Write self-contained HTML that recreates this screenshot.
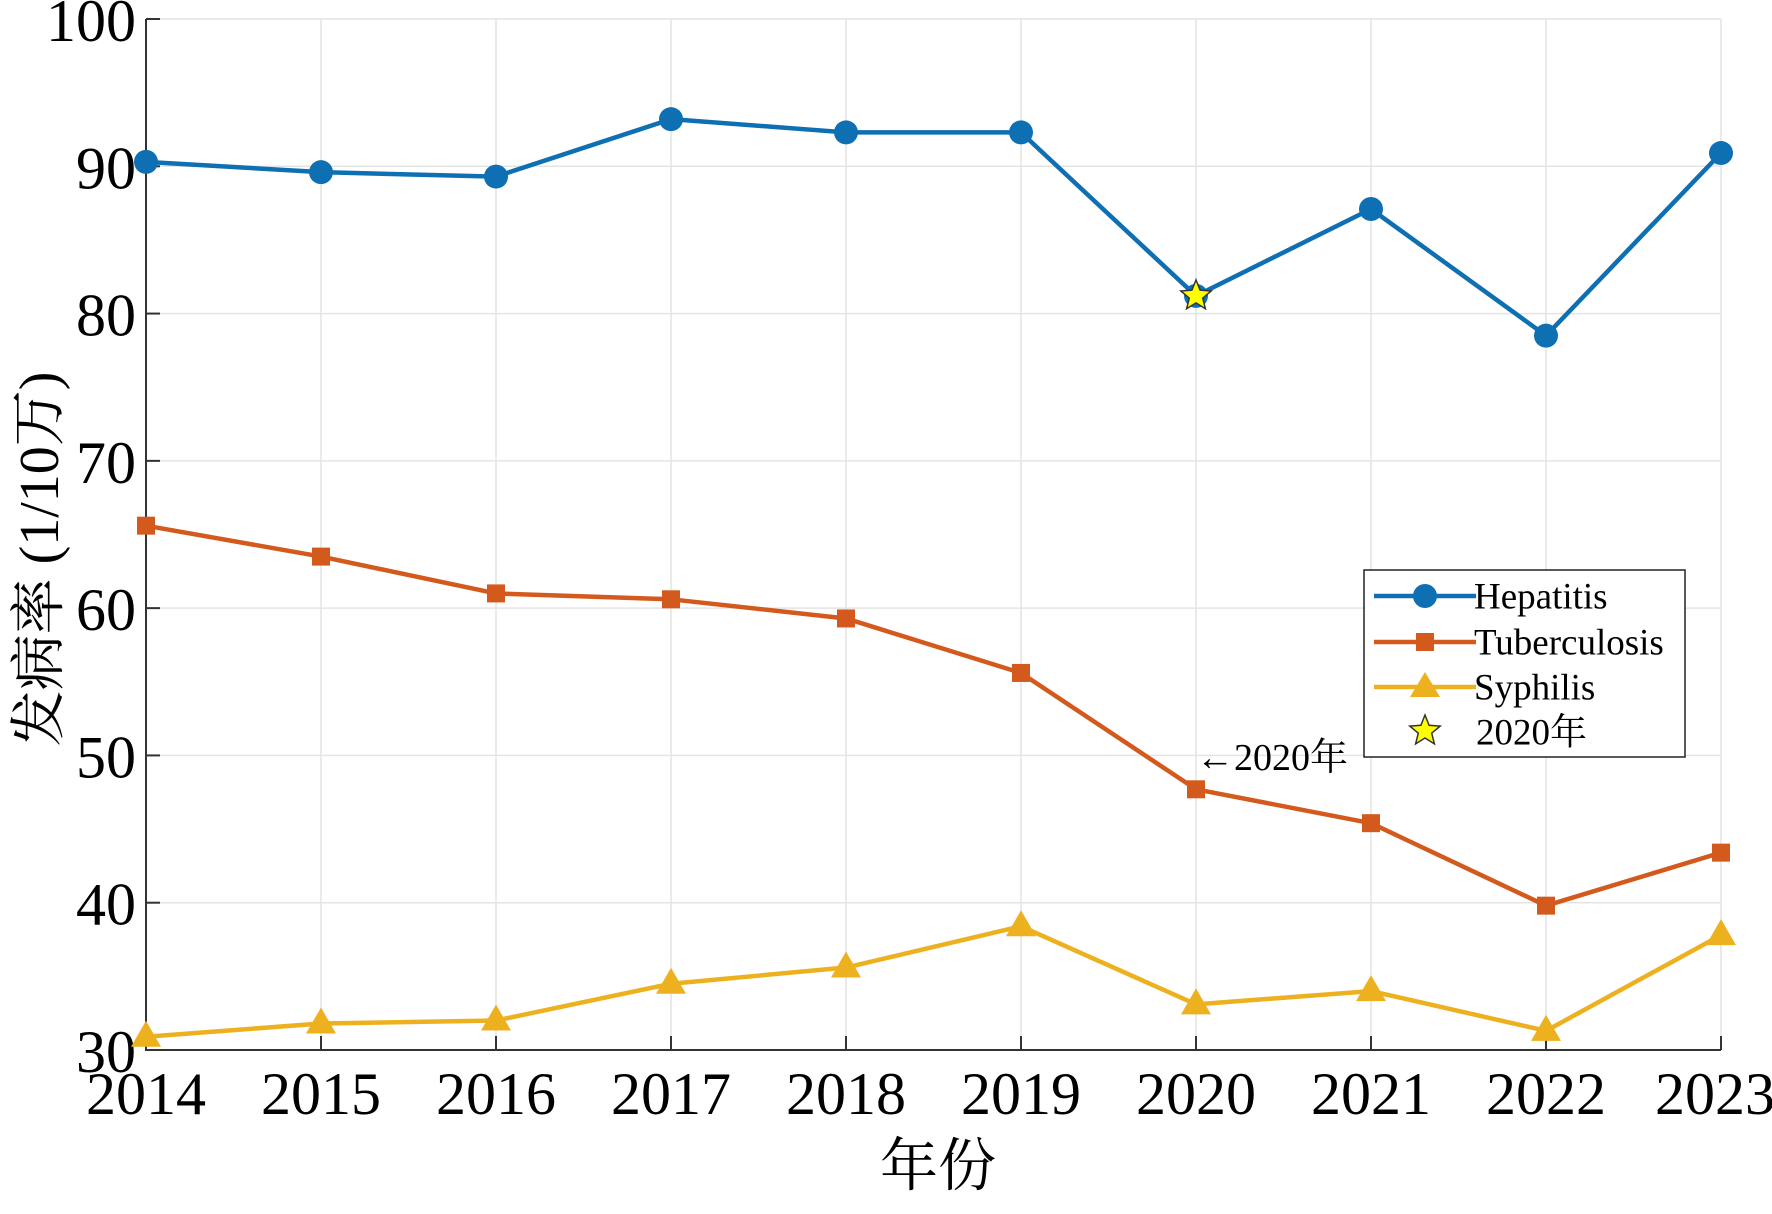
<!DOCTYPE html>
<html><head><meta charset="utf-8"><style>
html,body{margin:0;padding:0;background:#fff;}
svg{display:block;font-family:"Liberation Serif","Noto Serif CJK SC",serif;}
</style></head><body>
<svg id="chart" width="1772" height="1214" viewBox="0 0 1772 1214">
<g id="grid"></g>
<g id="axes"></g>
<g id="series"></g>
<text x="40" y="559" transform="rotate(-90 40 559)" text-anchor="middle" dominant-baseline="central" font-size="56" fill="#000">发病率 (1/10万)</text>
<text x="938" y="1166" text-anchor="middle" dominant-baseline="central" font-size="58" fill="#000">年份</text>
<g>
<text x="1196" y="758" dominant-baseline="central" font-size="38" fill="#000">←2020年</text>
</g>
<g>
<rect x="1364" y="570" width="321" height="187" fill="#fff" stroke="#222" stroke-width="1.5"/>
<g>
<line x1="1374" y1="596" x2="1476" y2="596" stroke="#0f6fb3" stroke-width="4.5"/><circle cx="1425" cy="596" r="12" fill="#0f6fb3"/>
<text x="1474" y="597" dominant-baseline="central" font-size="37">Hepatitis</text></g>
<g>
<line x1="1374" y1="642" x2="1476" y2="642" stroke="#d35a1c" stroke-width="4.5"/><rect x="1416" y="633" width="18" height="18" fill="#d35a1c"/>
<text x="1474" y="643" dominant-baseline="central" font-size="37">Tuberculosis</text></g>
<g>
<line x1="1374" y1="687" x2="1476" y2="687" stroke="#edb120" stroke-width="4.5"/><polygon points="1425,672 1440,697 1410,697" fill="#edb120"/>
<text x="1474" y="688" dominant-baseline="central" font-size="37">Syphilis</text></g>
<g>
<polygon id="lstar" fill="#ffff00" stroke="#333" stroke-width="1.5"/>
<text x="1476" y="733" dominant-baseline="central" font-size="37">2020年</text></g>
</g>
</svg>
<script>
const years=[2014,2015,2016,2017,2018,2019,2020,2021,2022,2023];
const hepatitis=[90.3,89.6,89.3,93.2,92.3,92.3,81.2,87.1,78.5,90.9];
const tuberculosis=[65.6,63.5,61.0,60.6,59.3,55.6,47.7,45.4,39.8,43.4];
const syphilis=[30.9,31.8,32.0,34.5,35.6,38.4,33.1,34.0,31.3,37.8];
const yTicks=[30,40,50,60,70,80,90,100];
const highlightIndex=6;
const NS="http://www.w3.org/2000/svg";
const X0=146,X1=1721,Y0=1050,Y1=19,YMIN=30,YMAX=100;
function xs(i){return X0+(X1-X0)*i/(years.length-1);}
function ys(v){return Y0-(v-YMIN)/(YMAX-YMIN)*(Y0-Y1);}
function mk(tag,attrs,parent){const e=document.createElementNS(NS,tag);for(const k in attrs)e.setAttribute(k,attrs[k]);parent.appendChild(e);return e;}
const grid=document.getElementById('grid'),axes=document.getElementById('axes'),ser=document.getElementById('series');
years.forEach((y,i)=>{
 const g=mk('line',{x1:xs(i),x2:xs(i),y1:Y1,y2:Y0,stroke:'#e4e4e4','stroke-width':1.5},grid);
 
 
 const t=mk('line',{x1:xs(i),x2:xs(i),y1:Y0,y2:Y0-14,stroke:'#333','stroke-width':2},axes);
 
 
 const l=mk('text',{x:(i===years.length-1?xs(i)-6:xs(i)),y:1094,'text-anchor':'middle','dominant-baseline':'central','font-size':60},axes);
 l.textContent=y;
 
 
});
yTicks.forEach(v=>{
 const g=mk('line',{x1:X0,x2:X1,y1:ys(v),y2:ys(v),stroke:'#e4e4e4','stroke-width':1.5},grid);
 
 
 const t=mk('line',{x1:X0,x2:X0+14,y1:ys(v),y2:ys(v),stroke:'#333','stroke-width':2},axes);
 
 
 const l=mk('text',{x:136,y:ys(v)+2,'text-anchor':'end','dominant-baseline':'central','font-size':60},axes);
 l.textContent=v;
 
 
});
const ax=mk('path',{d:`M${X0},${Y1} L${X0},${Y0} L${X1},${Y0}`,fill:'none',stroke:'#333','stroke-width':2},axes);


function starPts(cx,cy,R,r){let p=[];for(let k=0;k<10;k++){const a=-Math.PI/2+k*Math.PI/5,rr=k%2?r:R;p.push((cx+rr*Math.cos(a)).toFixed(1)+','+(cy+rr*Math.sin(a)).toFixed(1));}return p.join(' ');}
document.getElementById('lstar').setAttribute('points',starPts(1425,731,16,7));
function draw(vals,color,shape,name){
 const pl=mk('polyline',{points:vals.map((v,i)=>xs(i)+','+ys(v)).join(' '),fill:'none',stroke:color,'stroke-width':4.5,'stroke-linejoin':'round'},ser);
 
 
 vals.forEach((v,i)=>{
  const x=xs(i),y=ys(v);let m;
  if(shape==='c')m=mk('circle',{cx:x,cy:y,r:12,fill:color},ser);
  else if(shape==='s')m=mk('rect',{x:x-9,y:y-9,width:18,height:18,fill:color},ser);
  else m=mk('polygon',{points:`${x},${y-16} ${x+15},${y+10} ${x-15},${y+10}`,fill:color},ser);
  
  
 });
}
draw(hepatitis,'#0f6fb3','c','hepatitis');
draw(tuberculosis,'#d35a1c','s','tuberculosis');
draw(syphilis,'#edb120','t','syphilis');
const st=mk('polygon',{points:starPts(xs(highlightIndex),ys(hepatitis[highlightIndex]),16,7),fill:'#ffff00',stroke:'#333','stroke-width':1.5},ser);


</script>
</body></html>
